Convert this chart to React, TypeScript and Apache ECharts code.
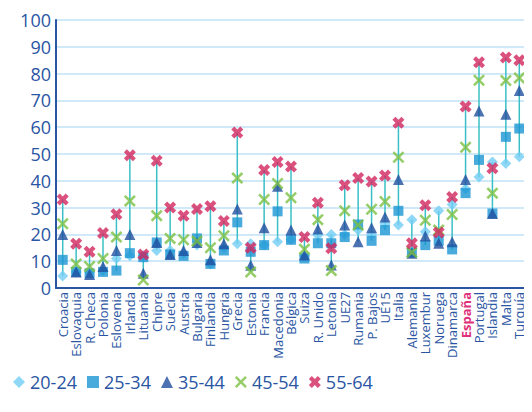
import * as echarts from "echarts";
import React, { useEffect, useRef } from "react";

const categories = [
  "Croacia", "Eslovaquia", "R. Checa", "Polonia", "Eslovenia", "Irlanda", "Lituania", "Chipre",
  "Suecia", "Austria", "Bulgaria", "Finlandia", "Hungria", "Grecia", "Estonia", "Francia",
  "Macedonia", "Bélgica", "Suiza", "R. Unido", "Letonia", "UE27", "Rumania", "P. Bajos", "UE15",
  "Italia", "Alemania", "Luxembur", "Noruega", "Dinamarca", "España", "Portugal", "Islandia",
  "Malta", "Turquía",
];

const s2024 = [4.5, 6, 6, 6.5, 11, 12, 12, 14, 14, 13, 16, 9, 15, 16.5, 16.5, 16, 17.3, 18, 12, 19.7, 20, 20, 21.6, 20, 24, 23.5, 25.5, 21, 28.8, 31.2, 37, 41.4, 47, 46.5, 49];
const s2534 = [10.5, 6, 5.5, 6, 6.5, 13, 11.5, 17, 12.5, 12, 18.5, 9, 14, 24.5, 13.5, 16, 28.6, 18, 11, 16.7, 16.7, 19, 23.7, 17.6, 21.6, 28.8, 13.2, 16, 17.6, 14.4, 35.4, 47.8, 27.8, 56.4, 59.5];
const s3544 = [20, 6, 5, 8, 14, 20, 5.5, 17, 12.5, 14, 17, 10.5, 16.5, 29.5, 8.5, 22.5, 38, 21.6, 12.3, 22, 8.6, 23.5, 17.3, 22.5, 26.5, 40.5, 13, 19.4, 16.7, 17.3, 40.5, 66, 27.8, 64.8, 73.7];
const s4554 = [24, 9, 8, 11, 19, 32.5, 3, 27, 18.5, 18, 17.5, 15, 19.5, 41, 6, 33, 39, 33.7, 14.5, 25.5, 6.5, 28.8, 23.5, 29.4, 32.3, 48.8, 13.3, 25.3, 21.6, 27.4, 52.5, 77.5, 35.4, 77.4, 78.4];
const s5564 = [33, 16.5, 13.5, 20.5, 27.5, 49.5, 12.5, 47.5, 30, 27, 29.5, 30.5, 25, 58, 15, 44, 47, 45.3, 19, 31.8, 14.8, 38.3, 41, 39.7, 42, 61.7, 16.7, 30.9, 20.7, 34, 67.7, 84.2, 44.7, 86, 85];

const crossPath = "path://M0,1.5 L1.5,0 L5,3.5 L8.5,0 L10,1.5 L6.5,5 L10,8.5 L8.5,10 L5,6.5 L1.5,10 L0,8.5 L3.5,5 Z";
const starPath = "path://M0,2.5 L2.5,0 L5,2.5 L7.5,0 L10,2.5 L7.5,5 L10,7.5 L7.5,10 L5,7.5 L2.5,10 L0,7.5 L2.5,5 Z";

const App: React.FC = () => {
  const chartRef = useRef<HTMLDivElement | null>(null);

  useEffect(() => {
    if (!chartRef.current) return;
    const chart = echarts.init(chartRef.current, undefined, { renderer: "svg" });
    const all = [s2024, s2534, s3544, s4554, s5564];
    const ranges = categories.map((_, i) => {
      const v = all.map((s) => s[i]);
      return [i, Math.min(...v), Math.max(...v)];
    });
    const blue = "#2a55a3";
    const option: echarts.EChartsOption = {
      animation: false,
      grid: { left: 48, right: 6, top: 12, bottom: 116 },
      legend: {
        bottom: 8,
        left: 0,
        itemWidth: 12,
        itemHeight: 12,
        itemGap: 10,
        textStyle: { color: blue, fontSize: 18, fontFamily: "Open Sans" },
        data: ["20-24", "25-34", "35-44", "45-54", "55-64"],
      },
      xAxis: {
        type: "category",
        data: categories,
        axisLine: { lineStyle: { color: blue, width: 2 } },
        axisTick: { lineStyle: { color: blue } },
        axisLabel: {
          interval: 0,
          rotate: 90,
          fontSize: 13,
          color: blue,
          fontFamily: "Open Sans",
          margin: 4,
          formatter: (v: string) => (v === "España" ? `{e|${v}}` : v),
          rich: { e: { color: "#e0307a", fontWeight: "bold", fontSize: 13 } },
        },
      },
      yAxis: {
        type: "value",
        min: 0,
        max: 100,
        interval: 10,
        axisLine: { show: true, lineStyle: { color: blue, width: 2 } },
        splitLine: { lineStyle: { color: "#cfe9f8", width: 2 } },
        axisLabel: { color: blue, fontSize: 18, fontFamily: "Open Sans", margin: 5 },
      },
      series: [
        {
          type: "custom",
          silent: true,
          data: ranges,
          renderItem: (params: any, api: any) => {
            const lo = api.coord([api.value(0), api.value(1)]);
            const hi = api.coord([api.value(0), api.value(2)]);
            return {
              type: "line",
              shape: { x1: lo[0], y1: lo[1], x2: hi[0], y2: hi[1] },
              style: { stroke: "#3bbfc6", lineWidth: 1.5 },
            };
          },
          z: 1,
        },
        { name: "20-24", type: "scatter", data: s2024, symbol: "diamond", symbolSize: 11, itemStyle: { color: "#72cdf4" } },
        { name: "25-34", type: "scatter", data: s2534, symbol: "rect", symbolSize: 10, itemStyle: { color: "#1b95d3" } },
        { name: "35-44", type: "scatter", data: s3544, symbol: "triangle", symbolSize: 11, itemStyle: { color: "#1f4f9f" } },
        { name: "45-54", type: "scatter", data: s4554, symbol: crossPath, symbolSize: 12, itemStyle: { color: "#7cc142" } },
        { name: "55-64", type: "scatter", data: s5564, symbol: starPath, symbolSize: 12, itemStyle: { color: "#d2255e" } },
      ],
    };
    chart.setOption(option);
    return () => chart.dispose();
  }, []);

  return <div ref={chartRef} style={{ width: 524, height: 396 }} />;
};

export default App;
